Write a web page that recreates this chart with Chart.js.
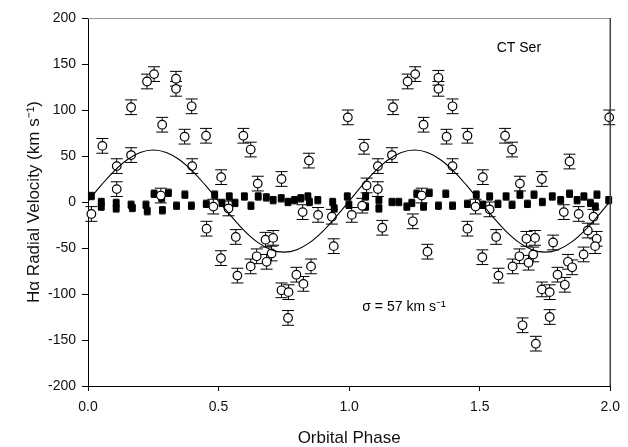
<!DOCTYPE html>
<html>
<head>
<meta charset="utf-8">
<script src="https://cdn.jsdelivr.net/npm/chart.js@4.4.1/dist/chart.umd.min.js"></script>
<style>
  html, body { margin: 0; padding: 0; background: #fff; }
  canvas { display: block; }
</style>
</head>
<body>
<canvas id="chart" width="628" height="447"></canvas>
<script>
// H-alpha emission velocities (open circles)
const circlePhase = [0.013,0.055,0.11,0.11,0.165,0.165,0.226,0.253,0.284,0.279,
  0.337,0.337,0.37,0.397,0.399,0.452,0.51,0.48,0.538,0.595,
  0.623,0.65,0.454,0.566,0.509,0.572,0.623,0.646,0.68,0.709,
  0.703,0.684,0.741,0.846,0.822,0.881,0.934,0.941,0.854,0.798,
  0.825,0.741,0.768,0.766,
  0.995,1.01,1.05,1.057,1.067,1.11,1.11,1.164,1.168,1.224,
  1.253,1.285,1.278,1.342,1.342,1.396,1.373,1.453,1.396,1.512,
  1.597,1.624,1.654,1.738,1.844,1.996,1.484,1.538,1.822,1.879,
  1.936,1.127,1.244,1.3,1.453,1.563,1.51,1.572,1.626,1.652,
  1.679,1.712,1.687,1.705,1.781,1.738,1.768,1.664,1.715,1.768,
  1.826,1.798,1.838,1.854,1.898,1.914,1.948,1.942];
const circleVel = [-13,61,39,14,103,51,131,139,84,7,
  134,123,71,104,39,72,27,-5,-7,72,
  57,20,-29,-38,-61,-80,-70,-59,-41,-39,
  -56,-65,25,45,-11,-14,-16,-48,-70,-79,
  -89,-96,-98,-126,
  92,-14,-4,60,18,39,14,51,103,131,
  139,84,7,135,123,104,71,72,39,27,
  72,57,20,25,44,92,-5,-8,-11,-13,
  -16,-28,-21,-54,-29,-38,-60,-80,-70,-59,
  -40,-39,-66,-57,-44,-95,-98,-134,-154,-125,
  -90,-79,-65,-71,-57,-31,-40,-48];
const circleErr = 8;

// filled squares near zero
const squarePhase = [0.013,0.051,0.051,0.108,0.108,0.165,0.17,0.222,0.227,0.253,
  0.282,0.285,0.308,0.339,0.371,0.396,0.453,0.485,0.513,0.541,
  0.563,0.599,0.624,0.652,0.683,0.709,0.74,0.766,0.791,0.815,
  0.842,0.848,0.88,0.937,0.943,0.993,0.999,
  1.063,1.063,1.114,1.114,1.164,1.19,1.221,1.24,1.259,1.285,
  1.307,1.342,1.37,1.396,1.453,1.487,1.512,1.538,1.57,1.601,
  1.624,1.654,1.683,1.708,1.74,1.778,1.81,1.844,1.873,1.899,
  1.924,1.949,1.943,1.994];
const squareVel = [6.5,0,-5,-1,-7,-3,-6.5,-3,-10,9,
  4,-9,10,-4,8,-4,-2,8,-1,6,
  -1,6,-4,6,5,2,4,0,2,4,
  6,0,2,0,-7,6,-3,
  6,-5,2,-7,0,0,-5,-1,9,-5,
  10,-4,9,-4,-2,8,-3,6,-2,6,
  -3,8,-2,8,0,6,2,9,2,6,
  -1,8,-5,2];
const squareErr = 4;

// fitted sine curve, sampled every 0.05 in phase
const curvePhase = [0,0.05,0.1,0.15,0.2,0.25,0.3,0.35,0.4,0.45,0.5,0.55,0.6,0.65,0.7,0.75,0.8,0.85,0.9,0.95,
  1,1.05,1.1,1.15,1.2,1.25,1.3,1.35,1.4,1.45,1.5,1.55,1.6,1.65,1.7,1.75,1.8,1.85,1.9,1.95,2];
const curveVel = [1,18,33.6,45.9,53.8,56.5,53.8,45.9,33.6,18,1,-16,-31.6,-43.9,-51.8,-54.5,-51.8,-43.9,-31.6,-16,
  1,18,33.6,45.9,53.8,56.5,53.8,45.9,33.6,18,1,-16,-31.6,-43.9,-51.8,-54.5,-51.8,-43.9,-31.6,-16,1];

const xTicks = [0, 0.5, 1, 1.5, 2];
const yTicks = [-200, -150, -100, -50, 0, 50, 100, 150, 200];

const FONT = '"Liberation Sans", Arial, sans-serif';
const pts = (xs, ys) => xs.map((x, i) => ({ x, y: ys[i] }));

// vertical error bars with caps, drawn just before their own dataset
const errorBars = {
  id: 'errorBars',
  beforeDatasetDraw(chart, args) {
    const ds = chart.data.datasets[args.index];
    if (!ds.err) return;
    const { ctx, scales: { x, y } } = chart;
    ctx.save();
    ctx.strokeStyle = '#000';
    ctx.lineWidth = 1;
    ds.data.forEach(p => {
      const px = x.getPixelForValue(p.x);
      const t = y.getPixelForValue(p.y + ds.err), b = y.getPixelForValue(p.y - ds.err);
      const w = ds.capHalf;
      ctx.beginPath();
      ctx.moveTo(px, t); ctx.lineTo(px, b);
      ctx.moveTo(px - w, t); ctx.lineTo(px + w, t);
      ctx.moveTo(px - w, b); ctx.lineTo(px + w, b);
      ctx.stroke();
    });
    ctx.restore();
  }
};

// top and right frame lines
const frame = {
  id: 'frame',
  afterDatasetsDraw(chart) {
    const { ctx, chartArea: a } = chart;
    ctx.save();
    ctx.lineWidth = 1;
    ctx.strokeStyle = '#999';
    ctx.beginPath(); ctx.moveTo(a.left, a.top + 0.5); ctx.lineTo(a.right, a.top + 0.5); ctx.stroke();
    ctx.strokeStyle = '#444';
    ctx.lineWidth = 1.5;
    ctx.beginPath(); ctx.moveTo(a.right, a.top); ctx.lineTo(a.right, a.bottom); ctx.stroke();
    ctx.restore();
  }
};

// in-plot labels
const notes = {
  id: 'notes',
  afterDraw(chart) {
    const { ctx, scales: { x, y } } = chart;
    ctx.save();
    ctx.fillStyle = '#000';
    ctx.font = '14px ' + FONT;
    ctx.textAlign = 'center';
    ctx.textBaseline = 'middle';
    ctx.fillText('CT Ser', x.getPixelForValue(1.65), y.getPixelForValue(167));
    ctx.fillText('σ = 57 km s⁻¹', x.getPixelForValue(1.21), y.getPixelForValue(-114));
    ctx.restore();
  }
};

new Chart(document.getElementById('chart'), {
  type: 'scatter',
  data: {
    datasets: [
      {
        type: 'line', data: pts(curvePhase, curveVel), order: 0,
        borderColor: '#000', borderWidth: 1.1, pointRadius: 0, tension: 0.4, fill: false
      },
      {
        data: pts(circlePhase, circleVel), order: 1, err: circleErr, capHalf: 6,
        pointStyle: 'circle', pointRadius: 4.3, borderWidth: 1.2,
        borderColor: '#000', backgroundColor: '#fff', clip: false
      },
      {
        data: pts(squarePhase, squareVel), order: 2, err: squareErr, capHalf: 3,
        pointStyle: 'rect', pointRadius: 4.9, borderWidth: 0,
        borderColor: '#000', backgroundColor: '#000', clip: false
      }
    ]
  },
  options: {
    responsive: false,
    animation: false,
    devicePixelRatio: 1,
    events: [],
    layout: { padding: { top: 18, right: 13, left: 0, bottom: 0 } },
    plugins: { legend: { display: false }, tooltip: { enabled: false } },
    scales: {
      x: {
        type: 'linear', min: 0, max: 2,
        afterBuildTicks: s => { s.ticks = xTicks.map(v => ({ value: v })); },
        afterFit: s => { s.height = 61; },
        ticks: { font: { family: FONT, size: 14 }, color: '#111', padding: 8, maxRotation: 0, autoSkip: false,
                 callback: v => v.toFixed(1) },
        grid: { drawOnChartArea: false, drawTicks: true, tickLength: 5, color: '#000' },
        border: { color: '#000', width: 1 },
        title: { display: true, text: 'Orbital Phase', color: '#111',
                 font: { family: FONT, size: 17, lineHeight: 1 }, padding: { top: 0, bottom: 0 } }
      },
      y: {
        type: 'linear', min: -200, max: 200,
        afterBuildTicks: s => { s.ticks = yTicks.map(v => ({ value: v })); },
        afterFit: s => { s.width = 88; },
        ticks: { font: { family: FONT, size: 14 }, color: '#111', padding: 6, autoSkip: false,
                 callback: v => String(v) },
        grid: { drawOnChartArea: false, drawTicks: true, tickLength: 6, color: '#000' },
        border: { color: '#000', width: 1 },
        title: { display: true, text: 'Hα Radial Velocity (km s⁻¹)', color: '#111',
                 font: { family: FONT, size: 17 }, padding: { top: 24, bottom: 0 } }
      }
    }
  },
  plugins: [errorBars, frame, notes]
});
</script>
</body>
</html>
